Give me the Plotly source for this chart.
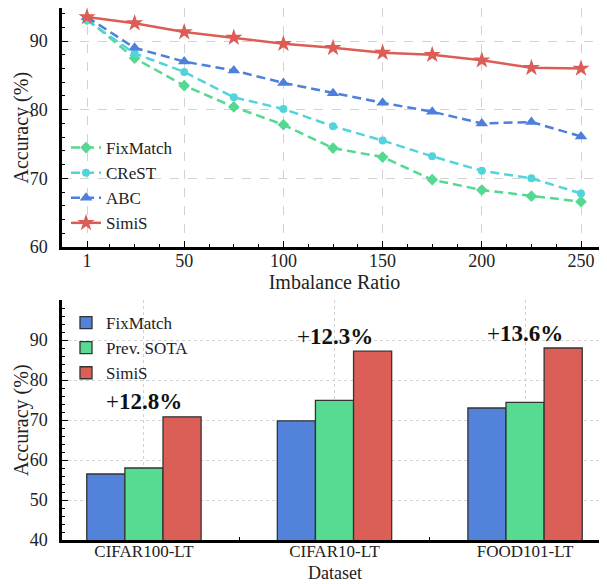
import numpy as np
import plotly.graph_objects as go

# ---------------- data ----------------
ratios = [1, 25, 50, 75, 100, 125, 150, 175, 200, 225, 250]
fixmatch_acc = [93.2, 87.5, 83.5, 80.4, 77.8, 74.4, 73.1, 69.8, 68.3, 67.4, 66.6]
crest_acc = [93.0, 88.2, 85.5, 81.8, 80.1, 77.6, 75.5, 73.2, 71.1, 70.0, 67.8]
abc_acc = [93.5, 89.0, 87.0, 85.7, 83.9, 82.4, 81.0, 79.7, 78.0, 78.2, 76.1]
simis_acc = [93.5, 92.6, 91.3, 90.5, 89.6, 89.0, 88.3, 88.0, 87.2, 86.1, 86.0]
ratio_ticks = [1, 50, 100, 150, 200, 250]
acc_ticks_top = [60, 70, 80, 90]

datasets = ["CIFAR100-LT", "CIFAR10-LT", "FOOD101-LT"]
bar_fixmatch = [56.5, 69.8, 73.0]
bar_prev_sota = [58.0, 74.9, 74.4]
bar_simis = [70.8, 87.2, 88.0]
gains = ["12.8%", "12.3%", "13.6%"]
acc_ticks_bottom = [40, 50, 60, 70, 80, 90]

# ---------------- styling ----------------
FONT = "Liberation Serif, DejaVu Serif, serif"
OFF = 8                     # page body margin of the browser
W, H = 607 - OFF, 584 - OFF
C_GREEN, C_CYAN, C_BLUE, C_RED = "#55D890", "#53D4DA", "#4D7FDB", "#DC5D55"
B_BLUE, B_GREEN, B_RED = "#5282DA", "#57DB93", "#DB5F57"
GRID = "#d2d2d2"

def px_x(p):  # window column -> paper fraction
    return (p - OFF) / W

def px_y(p):  # window row -> paper fraction
    return (H - (p - OFF)) / H

xdom = [px_x(62), 1.0]
top_dom = [px_y(247), 1.0]
bot_dom = [px_y(540), px_y(300)]
xr_top = [-11.6, 263.1]
yr_top = [60, 60 + (247 - OFF) / (206 / 30)]
xr_bot = [-0.43, 2.43]
yr_bot = [40, 100]

fig = go.Figure()

line_specs = [
    ("FixMatch", fixmatch_acc, C_GREEN, "diamond", 9, "9px,5px"),
    ("CReST", crest_acc, C_CYAN, "circle", 8, "9px,5px"),
    ("ABC", abc_acc, C_BLUE, "triangle-up", 11, "9px,5px"),
    ("SimiS", simis_acc, C_RED, "star", 13, "solid"),
]
for name, vals, col, sym, size, dash in line_specs:
    fig.add_trace(go.Scatter(
        x=ratios, y=vals, name=name, mode="lines+markers",
        line=dict(color=col, width=2.5, dash=dash),
        marker=dict(symbol=sym, size=size, color=col, line=dict(width=0)),
        xaxis="x", yaxis="y", legend="legend",
    ))

xi = list(range(len(datasets)))
for name, vals, col in [("FixMatch", bar_fixmatch, B_BLUE),
                        ("Prev. SOTA", bar_prev_sota, B_GREEN),
                        ("SimiS", bar_simis, B_RED)]:
    fig.add_trace(go.Bar(
        x=xi, y=vals, name=name, marker=dict(color=col, line=dict(color="#333333", width=1.3)),
        xaxis="x2", yaxis="y2", legend="legend2",
    ))

for i, g in enumerate(gains):
    fig.add_annotation(x=xi[i], y=bar_simis[i] + 3.75, xref="x2", yref="y2",
                       text="+<b>" + g + "</b>", showarrow=False, yanchor="middle",
                       font=dict(family=FONT, size=23, color="#111"))

tickfont = dict(family=FONT, size=18, color="#222")
titlefont = dict(family=FONT, size=20, color="#222")

# y-axis titles as rotated annotations
for dom in (top_dom, bot_dom):
    fig.add_annotation(x=px_x(21), y=(dom[0] + dom[1]) / 2, xref="paper", yref="paper",
                       text="Accuracy (%)", textangle=-90, showarrow=False,
                       xanchor="center", yanchor="middle", font=titlefont)
# bottom x-axis title
fig.add_annotation(x=(xdom[0] + xdom[1]) / 2, y=0, xref="paper", yref="paper",
                   text="Dataset", showarrow=False, xanchor="center", yanchor="bottom",
                   borderpad=0, font=dict(family=FONT, size=18, color="#222"))

top_minor_x = [v for v in np.arange(0, 263, 12.5) if v not in (0, 50, 100, 150, 200, 250)]
common_line = dict(showline=True, linewidth=2.5, linecolor="black", ticks="inside",
                   ticklen=6, tickwidth=1, tickcolor="black", zeroline=False, automargin=False)
mirror_common = dict(showticklabels=False, showgrid=False, showline=False, ticks="inside",
                     ticklen=5, tickcolor="black", zeroline=False, automargin=False)

fig.update_layout(
    width=W, height=H, margin=dict(l=0, r=0, t=0, b=0),
    font=dict(family=FONT, color="#222"),
    paper_bgcolor="white", plot_bgcolor="white",
    barmode="group", bargap=0.4, bargroupgap=0,
    xaxis=dict(domain=xdom, anchor="y", range=xr_top, tickmode="array",
               tickvals=ratio_ticks, tickfont=tickfont, showgrid=True, gridcolor=GRID,
               griddash="dash", gridwidth=0.8, ticklabelstandoff=-4,
               minor=dict(tickmode="array", tickvals=top_minor_x, ticks="inside", ticklen=3, tickcolor="black"),
               title=dict(text="Imbalance Ratio", font=titlefont, standoff=1), **common_line),
    yaxis=dict(domain=top_dom, anchor="x", range=yr_top, tickmode="array",
               tickvals=acc_ticks_top, tickfont=tickfont, showgrid=True, gridcolor=GRID,
               griddash="dash", gridwidth=0.8, ticklabelstandoff=8,
               minor=dict(dtick=2, ticks="inside", ticklen=3, tickcolor="black"), **common_line),
    xaxis3=dict(overlaying="x", side="top", anchor="y", range=xr_top, tickmode="array",
                tickvals=ratio_ticks,
                minor=dict(tickmode="array", tickvals=top_minor_x, ticks="inside", ticklen=3, tickcolor="black"),
                **mirror_common),
    yaxis3=dict(overlaying="y", side="right", anchor="x", range=yr_top, tickmode="array",
                tickvals=acc_ticks_top,
                minor=dict(dtick=2, ticks="inside", ticklen=3, tickcolor="black"), **mirror_common),
    xaxis2=dict(domain=xdom, anchor="y2", range=xr_bot, tickmode="array",
                tickvals=xi, ticktext=datasets, tickfont=dict(family=FONT, size=17, color="#222"),
                showgrid=True, gridcolor=GRID,
                griddash="dot", gridwidth=1, layer="below traces", ticklabelstandoff=-6,
                minor=dict(dtick=0.25, tick0=0, ticks="inside", ticklen=3, tickcolor="black"),
                **common_line),
    yaxis2=dict(domain=bot_dom, anchor="x2", range=yr_bot, tickmode="array",
                tickvals=acc_ticks_bottom, tickfont=tickfont, showgrid=True, gridcolor=GRID,
                griddash="dot", gridwidth=1, ticklabelstandoff=8, layer="below traces",
                minor=dict(dtick=2, ticks="inside", ticklen=3, tickcolor="black"), **common_line),
    xaxis4=dict(overlaying="x2", side="top", anchor="y2", range=xr_bot, tickmode="array",
                tickvals=xi,
                minor=dict(dtick=0.25, tick0=0, ticks="inside", ticklen=3, tickcolor="black"),
                **mirror_common),
    yaxis4=dict(overlaying="y2", side="right", anchor="x2", range=yr_bot, tickmode="array",
                tickvals=acc_ticks_bottom,
                minor=dict(dtick=2, ticks="inside", ticklen=3, tickcolor="black"), **mirror_common),
    legend=dict(x=px_x(66), y=px_y(130), xanchor="left", yanchor="top", bgcolor="rgba(255,255,255,0)",
                font=dict(family=FONT, size=17, color="#222"), itemwidth=30, tracegroupgap=0),
    legend2=dict(x=px_x(66), y=px_y(305), xanchor="left", yanchor="top", bgcolor="rgba(255,255,255,0)",
                 font=dict(family=FONT, size=17, color="#222"), itemwidth=30, tracegroupgap=0),
)

fig.write_html("out.html")
